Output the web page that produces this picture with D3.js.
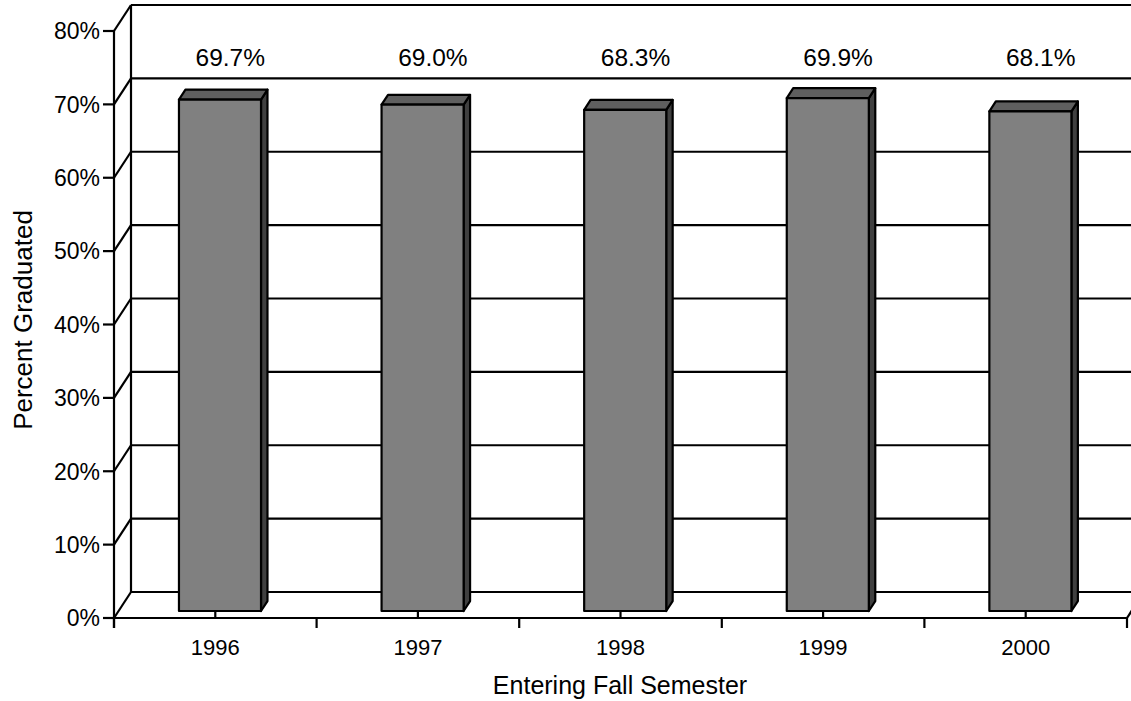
<!DOCTYPE html>
<html>
<head>
<meta charset="utf-8">
<script src="https://cdn.jsdelivr.net/npm/d3@7"></script>
<style>
  body { margin: 0; background: #fff; }
  text { font-family: Arial, 'Liberation Sans', sans-serif; fill: #000; }
</style>
</head>
<body>
<div class="canvas"></div>
<script>
// data
const years = ['1996', '1997', '1998', '1999', '2000']
const rates = [69.7, 69.0, 68.3, 69.9, 68.1]
const yTicks = [0, 10, 20, 30, 40, 50, 60, 70, 80]

const svg = d3.select('.canvas')
    .append('svg')
    .attr('width', 1131)
    .attr('height', 701)

// depth offset of the 3d box
const DX = 17, DY = -26
const z0 = 0.27, z1 = 0.65

const y = d3.scaleLinear().domain([0, 80]).range([618, 31])
const x = d3.scaleBand().domain(years).range([114, 1127])
const bw = x.bandwidth()

const line = (x1, y1, x2, y2, g = svg) => g.append('line')
    .attr('x1', x1).attr('y1', y1).attr('x2', x2).attr('y2', y2)
    .attr('stroke', '#000').attr('stroke-width', 2.2)

// back wall gridlines + left wall diagonals
const walls = svg.append('g')
yTicks.forEach(t => {
    line(x.range()[0] + DX, y(t) + DY, 1131 + 40, y(t) + DY, walls)
    line(x.range()[0], y(t), x.range()[0] + DX, y(t) + DY, walls)
})
line(x.range()[0] + DX, y(80) + DY, x.range()[0] + DX, y(0) + DY, walls)
// floor right edge
line(x.range()[1], y(0), x.range()[1] + DX, y(0) + DY, walls)

// bars
const pt = (px, v, z) => [px + z * DX, y(v) + z * DY]
const bars = svg.append('g')
years.forEach((yr, i) => {
    const x0 = x(yr) + bw * 0.298
    const x1 = x(yr) + bw * 0.703
    const v = rates[i]
    const front = [pt(x0, 0, z0), pt(x1, 0, z0), pt(x1, v, z0), pt(x0, v, z0)]
    const top = [pt(x0, v, z0), pt(x1, v, z0), pt(x1, v, z1), pt(x0, v, z1)]
    const side = [pt(x1, v, z0), pt(x1, v, z1), pt(x1, 0, z1), pt(x1, 0, z0)]
    const poly = (p, c) => bars.append('polygon')
        .attr('points', p.map(d => d.join(',')).join(' '))
        .attr('fill', c)
        .attr('stroke', '#000')
        .attr('stroke-width', 2.2)
        .attr('stroke-linejoin', 'round')
    poly(side, '#404040')
    poly(top, '#5f5f5f')
    poly(front, '#808080')
})

// value labels
svg.append('g').selectAll('text')
    .data(rates)
    .enter()
    .append('text')
    .attr('x', (d, i) => x(years[i]) + bw / 2 + 15)
    .attr('y', 66)
    .attr('text-anchor', 'middle')
    .attr('font-size', 24.5)
    .text(d => d.toFixed(1) + '%')

// y axis
const yAxis = svg.append('g')
line(x.range()[0], y(80), x.range()[0], 628, yAxis)
yTicks.forEach(t => {
    line(x.range()[0] - 11, y(t), x.range()[0], y(t), yAxis)
    yAxis.append('text')
        .attr('x', 100)
        .attr('y', y(t))
        .attr('dy', '0.36em')
        .attr('text-anchor', 'end')
        .attr('font-size', 23)
        .text(t + '%')
})

// x axis
const xAxis = svg.append('g')
line(x.range()[0], y(0), x.range()[1], y(0), xAxis)
years.concat(['end']).forEach((yr, i) => {
    const px = i < years.length ? x(yr) : x.range()[1]
    line(px, y(0), px, 628, xAxis)
})
years.forEach(yr => {
    const cx = x(yr) + bw / 2
    line(cx, y(0), cx, y(0) + z0 * DY, xAxis)
    xAxis.append('text')
        .attr('x', cx)
        .attr('y', 655)
        .attr('text-anchor', 'middle')
        .attr('font-size', 22)
        .text(yr)
})

// titles
svg.append('text')
    .attr('x', 620)
    .attr('y', 694)
    .attr('text-anchor', 'middle')
    .attr('font-size', 25)
    .text('Entering Fall Semester')

svg.append('text')
    .attr('transform', 'translate(32,320) rotate(-90)')
    .attr('text-anchor', 'middle')
    .attr('font-size', 26)
    .text('Percent Graduated')
</script>
</body>
</html>
